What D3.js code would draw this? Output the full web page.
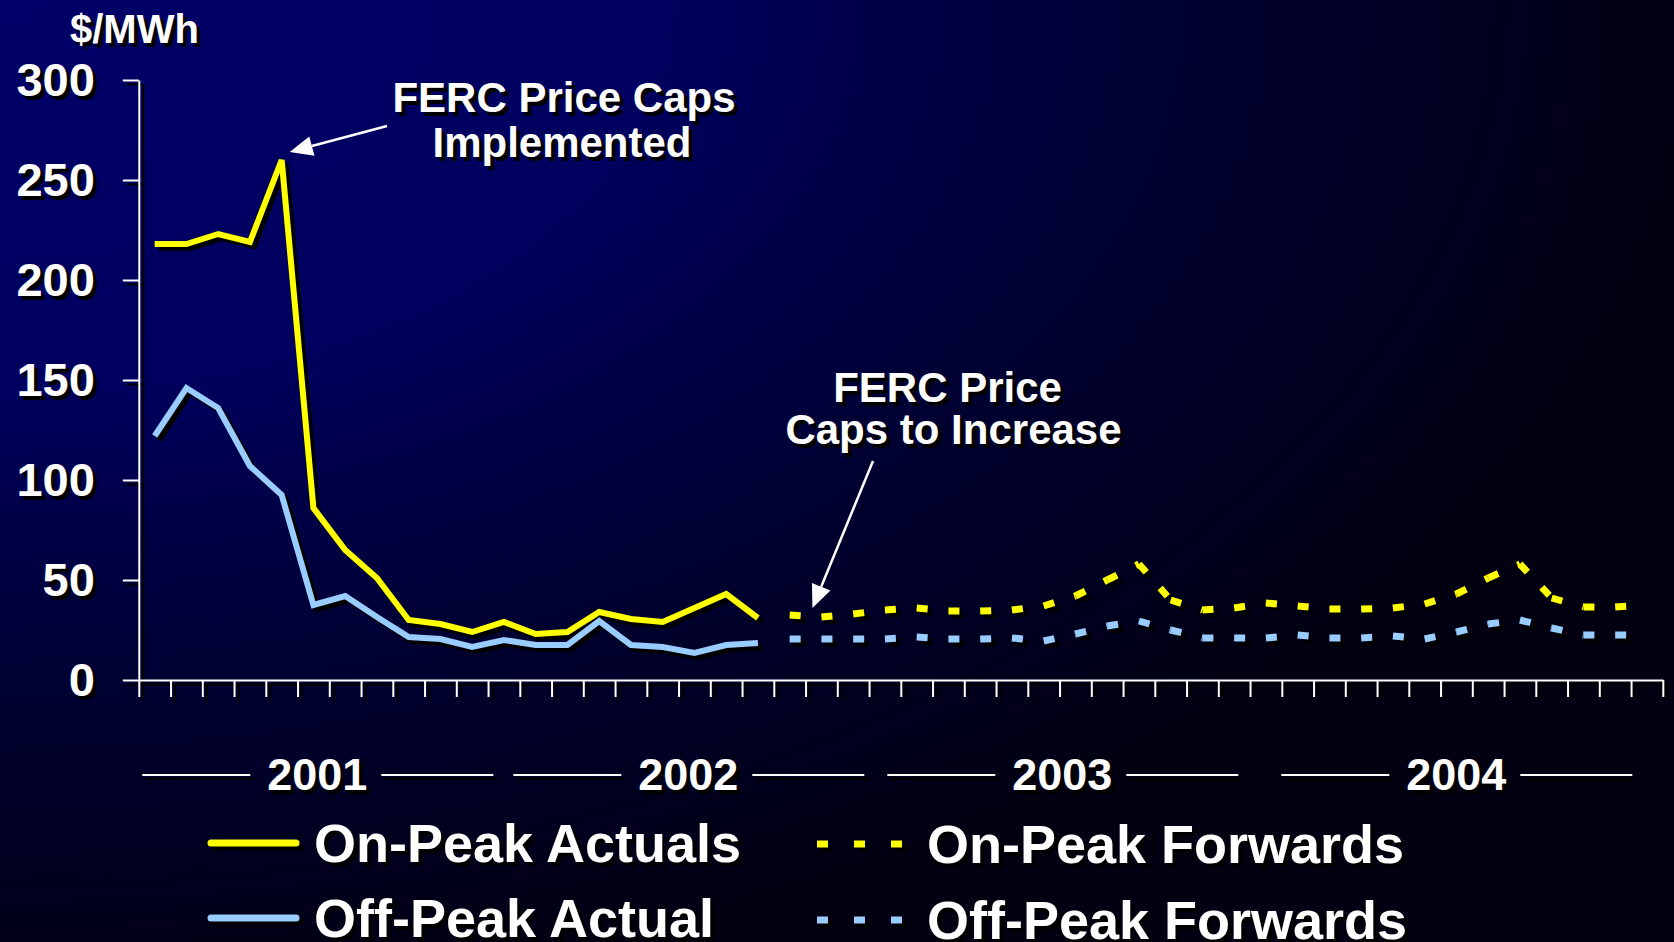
<!DOCTYPE html>
<html>
<head>
<meta charset="utf-8">
<script src="https://cdn.jsdelivr.net/npm/d3@7"></script>
<style>
  body { margin: 0; background: #000; overflow: hidden; }
  svg { display: block; font-family: "Liberation Sans", Arial, sans-serif; font-weight: bold; }
</style>
</head>
<body>
<div id="chart"></div>
<script>
// values, $/MWh, one per month from Jan 2001
var years = ["2001", "2002", "2003", "2004"];
var onPeakActuals = [218, 218, 223, 219, 260, 86, 65, 51, 30, 28, 24, 29, 23, 24, 34, 30.5, 29, 36, 43, 31];
var offPeakActual = [122, 146, 136, 107, 92.5, 37.5, 42, 31.5, 21.5, 20.5, 16.5, 20, 17.5, 17.5, 29.5, 17.5, 16.5, 13.5, 17.5, 18.5];
// forwards start the month after the last actual (Sep 2002)
var onPeakForwards = [32.5, 31.5, 33, 35, 36, 34.5, 34.5, 35, 37, 42, 50, 58, 40, 35, 36, 38.5, 37, 35.5, 35.5, 36, 38, 43, 51, 58, 41, 36.5, 36.5, 37.5];
var offPeakForwards = [20.5, 20.5, 20.5, 20.5, 21.5, 20.5, 20.5, 21, 19.5, 23, 27, 29.5, 25, 21, 21, 21, 22.5, 21, 21, 22, 20.5, 24, 28, 30, 26, 22.5, 22.5, 22.5];
var yTicks = [0, 50, 100, 150, 200, 250, 300];

var width = 1674, height = 942;
var nMonths = years.length * 12;
var fStart = onPeakActuals.length;

var svg = d3.select("#chart").append("svg")
    .attr("width", width)
    .attr("height", height);

// background: dark navy fading to black towards the right and bottom
var grad = svg.append("defs").append("radialGradient")
    .attr("id", "bg")
    .attr("gradientUnits", "userSpaceOnUse")
    .attr("cx", 0).attr("cy", 0).attr("r", 1700)
    .attr("gradientTransform", "scale(1,0.59)");
[[0, "#000068"], [0.39, "#00005e"], [0.52, "#000048"], [0.7, "#000030"], [0.88, "#00001e"], [1, "#030012"]]
  .forEach(function(s) {
    grad.append("stop").attr("offset", s[0]).attr("stop-color", s[1]);
  });
svg.append("rect").attr("width", width).attr("height", height).attr("fill", "url(#bg)");

var x = d3.scaleLinear().domain([0, nMonths]).range([138.8, 1662.8]);
var y = d3.scaleLinear().domain([0, 300]).range([680, 80]);

var line = d3.line()
    .x(function(d) { return x(d.i + 0.5); })
    .y(function(d) { return y(d.v); });

function pts(arr, offset) {
  return arr.map(function(v, k) { return {i: k + offset, v: v}; });
}

var yearNudge = [-12, -22, -29, -16];

function drawLayer(g, shadow) {
  var white = shadow ? "#000" : "#fff";
  var yellow = shadow ? "#000" : "#ffff00";
  var blue = shadow ? "#000" : "#99ccff";

  // y axis
  var ya = g.append("g")
      .attr("transform", "translate(" + x(0) + ",0)")
      .call(d3.axisLeft(y).tickValues(yTicks).tickSize(16).tickPadding(28).tickSizeOuter(0));
  // x axis, a tick at each month boundary
  var xa = g.append("g")
      .attr("transform", "translate(0," + y(0) + ")")
      .call(d3.axisBottom(x).tickValues(d3.range(0, nMonths + 1)).tickSize(17).tickSizeOuter(0).tickFormat(""));
  [ya, xa].forEach(function(a) {
    a.attr("font-family", null).attr("font-size", null);
    a.selectAll("path, line").attr("stroke", white).attr("stroke-width", 2);
  });
  ya.selectAll("text").attr("fill", white).style("font-size", "47px");

  g.append("text").attr("x", 70).attr("y", 43)
      .attr("fill", white).style("font-size", "40px").text("$/MWh");

  // actuals: solid lines
  g.append("path").datum(pts(onPeakActuals, 0)).attr("d", line)
      .attr("fill", "none").attr("stroke", yellow).attr("stroke-width", 6);
  g.append("path").datum(pts(offPeakActual, 0)).attr("d", line)
      .attr("fill", "none").attr("stroke", blue).attr("stroke-width", 6);

  // forwards: dashes restart at every month, like the original
  [[onPeakForwards, yellow], [offPeakForwards, blue]].forEach(function(s) {
    g.append("g").selectAll("path")
      .data(d3.pairs(pts(s[0], fStart)))
      .enter().append("path")
        .attr("d", line)
        .attr("fill", "none")
        .attr("stroke", s[1])
        .attr("stroke-width", 7)
        .attr("stroke-dasharray", "11,21");
  });

  // year labels with rules either side
  years.forEach(function(yr, k) {
    var c = (x(k * 12) + x(k * 12 + 12)) / 2 + yearNudge[k];
    g.append("line").attr("x1", c - 175).attr("x2", c - 67).attr("y1", 775).attr("y2", 775)
        .attr("stroke", white).attr("stroke-width", 2);
    g.append("line").attr("x1", c + 64).attr("x2", c + 176).attr("y1", 775).attr("y2", 775)
        .attr("stroke", white).attr("stroke-width", 2);
    g.append("text").attr("x", c).attr("y", 790).attr("text-anchor", "middle")
        .attr("fill", white).style("font-size", "45px").text(yr);
  });

  // legend
  var legend = [
    {label: "On-Peak Actuals", color: yellow, dash: null, x: 211, y: 843},
    {label: "Off-Peak Actual", color: blue, dash: null, x: 211, y: 918},
    {label: "On-Peak Forwards", color: yellow, dash: "11,26", x: 817, y: 844},
    {label: "Off-Peak Forwards", color: blue, dash: "11,26", x: 817, y: 920}
  ];
  legend.forEach(function(d) {
    g.append("line")
        .attr("x1", d.x).attr("x2", d.dash ? d.x + 86 : d.x + 85)
        .attr("y1", d.y).attr("y2", d.y)
        .attr("stroke", d.color).attr("stroke-width", 7)
        .attr("stroke-linecap", d.dash ? "butt" : "round")
        .attr("stroke-dasharray", d.dash);
    g.append("text").attr("x", d.dash ? 927 : 314).attr("y", d.y + 19)
        .attr("fill", white).style("font-size", "54px").text(d.label);
  });

  // annotations
  var notes = [
    {lines: ["FERC Price Caps", "Implemented"], cx: [564, 562], by: [112, 157]},
    {lines: ["FERC Price", "Caps to Increase"], cx: [947.5, 953.5], by: [402, 444]}
  ];
  notes.forEach(function(n) {
    n.lines.forEach(function(t, j) {
      g.append("text").attr("x", n.cx[j]).attr("y", n.by[j]).attr("text-anchor", "middle")
          .attr("fill", white).style("font-size", "42px").text(t);
    });
  });
}

function arrow(g, x1, y1, x2, y2) {
  var dx = x2 - x1, dy = y2 - y1, len = Math.sqrt(dx * dx + dy * dy);
  var ux = dx / len, uy = dy / len, hl = 23, hw = 10;
  var bx = x2 - ux * hl, by = y2 - uy * hl;
  g.append("line").attr("x1", x1).attr("y1", y1).attr("x2", bx).attr("y2", by)
      .attr("stroke", "#fff").attr("stroke-width", 2.5);
  g.append("polygon")
      .attr("points", [[x2, y2], [bx - uy * hw, by + ux * hw], [bx + uy * hw, by - ux * hw]].join(" "))
      .attr("fill", "#fff");
}

drawLayer(svg.append("g").attr("transform", "translate(4,4)"), true);
var front = svg.append("g");
drawLayer(front, false);

// arrows point at the cap peak and at the first forward months
arrow(front, 387, 126, x(4.5) + 8, y(onPeakActuals[4]) - 8);
arrow(front, 873, 461, x(fStart + 1.5) - 9, y(onPeakForwards[1]) - 9);
</script>
</body>
</html>
